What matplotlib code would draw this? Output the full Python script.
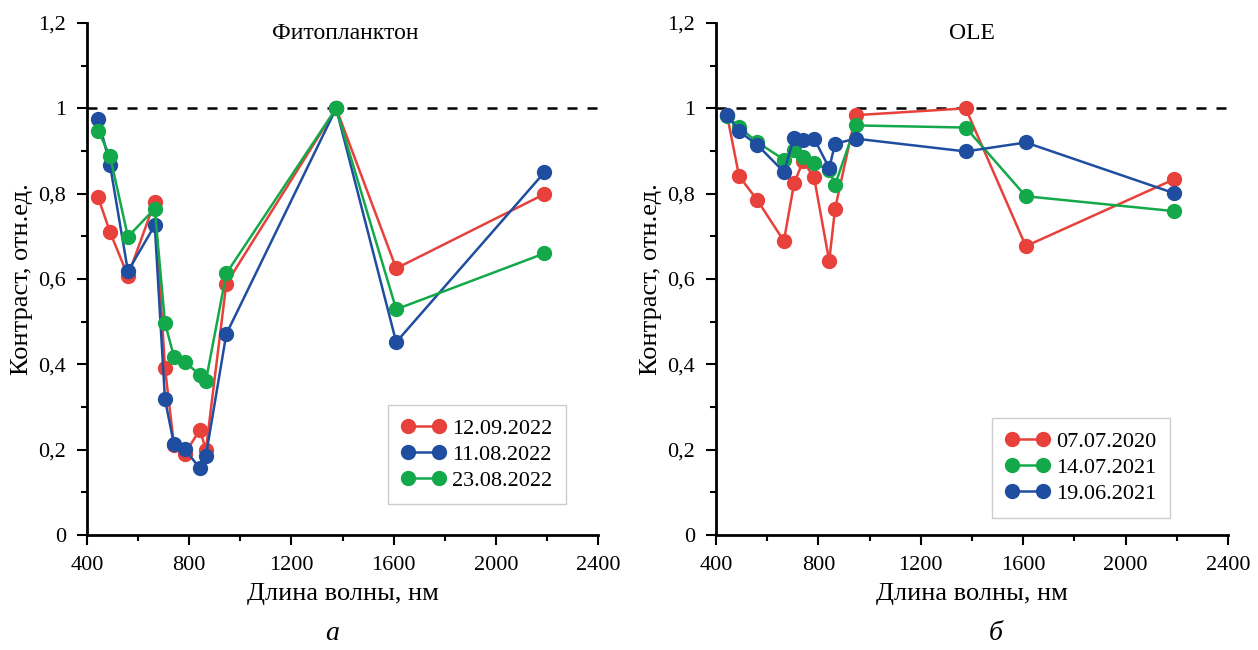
import matplotlib
matplotlib.use("Agg")
import numpy as np
from matplotlib import pyplot as plt
from matplotlib.ticker import MultipleLocator

# Sentinel-2 band centres, nm
wl = [443, 490, 560, 665, 705, 740, 783, 842, 865, 945, 1375, 1610, 2190]

# panel a - phytoplankton
phyto_labels = ["12.09.2022", "11.08.2022", "23.08.2022"]
phyto_0912 = [0.792, 0.710, 0.607, 0.781, 0.392, 0.212, 0.191, 0.247, 0.199, 0.589, 1.0, 0.625, 0.799]
phyto_1108 = [0.976, 0.867, 0.618, 0.726, 0.318, 0.213, 0.201, 0.156, 0.185, 0.471, 1.0, 0.452, 0.850]
phyto_2308 = [0.948, 0.888, 0.699, 0.765, 0.497, 0.418, 0.406, 0.375, 0.361, 0.613, 1.0, 0.529, 0.660]

# panel b - OLE
ole_labels = ["07.07.2020", "14.07.2021", "19.06.2021"]
ole_0707 = [0.984, 0.841, 0.786, 0.689, 0.825, 0.876, 0.838, 0.642, 0.765, 0.984, 1.0, 0.677, 0.834]
ole_1407 = [0.981, 0.956, 0.921, 0.880, 0.903, 0.886, 0.872, 0.855, 0.821, 0.960, 0.955, 0.794, 0.759]
ole_1906 = [0.985, 0.946, 0.915, 0.851, 0.931, 0.925, 0.929, 0.860, 0.917, 0.929, 0.899, 0.920, 0.801]

x_ticks = [400, 800, 1200, 1600, 2000, 2400]
y_ticks = [0, 0.2, 0.4, 0.6, 0.8, 1.0, 1.2]
y_tick_labels = ["0", "0,2", "0,4", "0,6", "0,8", "1", "1,2"]

RED = "#e8403a"
BLUE = "#1f4ea0"
GREEN = "#13a94a"

plt.rcParams["font.family"] = ["Liberation Serif", "DejaVu Serif"]

fig = plt.figure(figsize=(12.58, 6.5), dpi=100)
ax1 = fig.add_axes([0.0692, 0.1769, 0.4062, 0.7877])
ax2 = fig.add_axes([0.5692, 0.1769, 0.4070, 0.7877])


def style_axes(ax):
    ax.set_xlim(400, 2400)
    ax.set_ylim(0, 1.2)
    ax.spines["top"].set_visible(False)
    ax.spines["right"].set_visible(False)
    ax.spines["left"].set_linewidth(2)
    ax.spines["bottom"].set_linewidth(2)
    ax.set_xticks(x_ticks)
    ax.set_yticks(y_ticks)
    ax.set_yticklabels(y_tick_labels)
    ax.xaxis.set_minor_locator(MultipleLocator(200))
    ax.yaxis.set_minor_locator(MultipleLocator(0.1))
    ax.tick_params(which="major", direction="out", length=7, width=1.5, labelsize=16, pad=8)
    ax.tick_params(which="minor", direction="out", length=4, width=1.5)
    ax.set_xlabel("Длина волны, нм", fontsize=19, labelpad=6)
    ax.set_ylabel("Контраст, отн.ед.", fontsize=19, labelpad=4)
    ax.plot([400, 2400], [1, 1], ls=(0, (4, 4)), color="black", lw=1.8, zorder=1)


def draw(ax, series, labels, colors):
    for vals, lab, c in zip(series, labels, colors):
        ax.plot(wl, vals, "-o", color=c, lw=1.8, ms=10, label=lab, zorder=3)


style_axes(ax1)
draw(ax1, [phyto_0912, phyto_1108, phyto_2308], phyto_labels, [RED, BLUE, GREEN])
ax1.text(1412, 1.176, "Фитопланктон", fontsize=17, ha="center", va="center")
ax1.legend(loc="upper left", bbox_to_anchor=(0.567, 0.276), numpoints=2, fontsize=16,
           handlelength=2.0, handletextpad=0.3, frameon=True, fancybox=False,
           edgecolor="#cccccc", framealpha=1, borderpad=0.6, labelspacing=0.25)

style_axes(ax2)
draw(ax2, [ole_0707, ole_1407, ole_1906], ole_labels, [RED, GREEN, BLUE])
ax2.text(1400, 1.176, "OLE", fontsize=17, ha="center", va="center")
ax2.legend(loc="upper left", bbox_to_anchor=(0.517, 0.25), numpoints=2, fontsize=16,
           handlelength=2.0, handletextpad=0.3, frameon=True, fancybox=False,
           edgecolor="#cccccc", framealpha=1, borderpad=0.6, labelspacing=0.25)

fig.text(332 / 1258, 1 - 633 / 650, "а", fontsize=20, style="italic", ha="center", va="center")
fig.text(996 / 1258, 1 - 633 / 650, "б", fontsize=20, style="italic", ha="center", va="center")

fig.savefig("out.png", dpi=100)
